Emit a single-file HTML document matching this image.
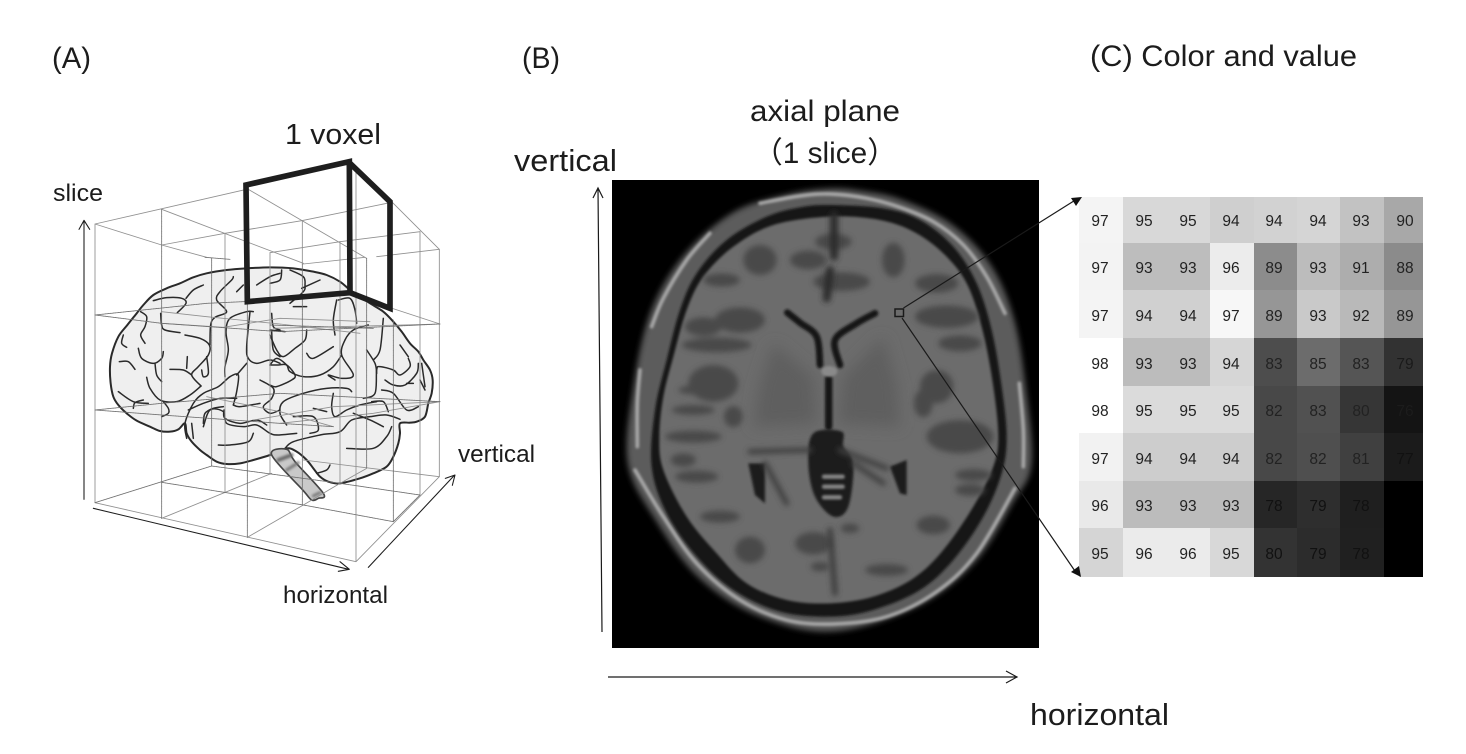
<!DOCTYPE html>
<html><head><meta charset="utf-8"><style>
html,body{margin:0;padding:0;background:#fff}
svg{display:block}
text{font-family:"Liberation Sans","Noto Sans CJK JP",sans-serif;fill:#1c1c1c}
.c text{text-anchor:middle;font-size:15.5px;fill:#222}
</style></head><body>
<svg width="1466" height="754" viewBox="0 0 1466 754" xmlns="http://www.w3.org/2000/svg">
<defs>
<filter id="b1" filterUnits="userSpaceOnUse" x="0" y="0" width="1500" height="1600"><feGaussianBlur stdDeviation="1"/></filter>
<filter id="b2" filterUnits="userSpaceOnUse" x="0" y="0" width="1500" height="1600"><feGaussianBlur stdDeviation="4"/></filter>
<filter id="b3" filterUnits="userSpaceOnUse" x="0" y="0" width="1500" height="1600"><feGaussianBlur stdDeviation="9"/></filter>
<filter id="b6" filterUnits="userSpaceOnUse" x="0" y="0" width="1500" height="1600"><feGaussianBlur stdDeviation="11"/></filter>
<filter id="b10" filterUnits="userSpaceOnUse" x="0" y="0" width="1500" height="1600"><feGaussianBlur stdDeviation="22"/></filter>
</defs>
<rect width="1466" height="754" fill="#fff"/>

<text x="52" y="68" font-size="30" textLength="39" lengthAdjust="spacingAndGlyphs">(A)</text>
<text x="522" y="68" font-size="30" textLength="38" lengthAdjust="spacingAndGlyphs">(B)</text>
<text x="1090" y="66" font-size="30" textLength="267" lengthAdjust="spacingAndGlyphs">(C) Color and value</text>
<text x="285" y="144" font-size="29" textLength="96" lengthAdjust="spacingAndGlyphs">1 voxel</text>
<text x="750" y="121" font-size="30" textLength="150" lengthAdjust="spacingAndGlyphs">axial plane</text>
<text x="753" y="163" font-size="30" textLength="144" lengthAdjust="spacingAndGlyphs">（1 slice）</text>
<text x="514" y="171" font-size="31" textLength="103" lengthAdjust="spacingAndGlyphs">vertical</text>
<text x="53" y="201" font-size="24" textLength="50" lengthAdjust="spacingAndGlyphs">slice</text>
<text x="458" y="462" font-size="24" textLength="77" lengthAdjust="spacingAndGlyphs">vertical</text>
<text x="283" y="603" font-size="24" textLength="105" lengthAdjust="spacingAndGlyphs">horizontal</text>
<text x="1030" y="725" font-size="31" textLength="139" lengthAdjust="spacingAndGlyphs">horizontal</text>

<!-- Panel A -->
<g transform="translate(40,140) scale(.33333)" fill="none" stroke-linejoin="round" stroke-linecap="round">
  <path class="s" d="M210,680 L216,640 L235,590 L262,555 L290,520 L310,495 L340,465 L380,445 L420,430 L460,412 L500,400 L560,390 L620,385 L690,382 L760,385 L820,395 L860,405 L900,425 L930,450 L960,470 L990,490 L1030,515 L1060,545 L1085,575 L1110,610 L1135,635 L1150,660 L1170,690 L1178,720 L1175,760 L1165,790 L1155,830 L1130,845 L1110,848 L1080,850 L1080,880 L1075,910 L1060,950 L1040,980 L1000,1000 L960,1015 L900,1030 L865,1025 L840,1010 L820,985 L800,960 L770,935 L740,925 L690,945 L640,960 L600,970 L560,972 L530,965 L500,945 L480,930 L455,905 L440,880 L435,850 L415,868 L390,875 L360,873 L330,860 L290,842 L260,820 L235,795 L220,770 L212,730 Z" fill="#efefef" stroke="#2a2a2a" stroke-width="6"/>

  <g class="t" transform="translate(180,360)" stroke="#2a2a2a" stroke-width="4.5">
    <path d="M160,122 L200,113 L245,115 L258,130 L232,158 M258,115 L280,90 L310,75"/>
    <path d="M182,160 L185,195 L195,210 L240,218 M255,225 L300,235 L328,255 L325,285 L295,320 L275,345 L303,378"/>
    <path d="M122,155 L140,170 L135,200 L122,225 L135,250 M70,225 L65,250 L80,262"/>
    <path d="M115,265 L125,295 L160,310 L185,295 L190,275 M58,305 L85,305 L105,328 M165,310 L170,345 L185,365"/>
    <path d="M140,352 L150,385 L180,420 L230,425 L270,405 L303,378 M210,328 L250,330 L275,345 M262,290 L260,325"/>
    <path d="M320,290 L325,340 L310,350 L305,330 M55,395 L100,425 L145,430 M100,445 L105,428 L130,420"/>
    <path d="M260,535 L255,490 L280,430 L310,400 L355,380 L390,350 L415,345 L410,395 L400,435"/>
    <path d="M375,350 L375,320 L385,270 L378,215 L390,175 L440,155 L460,155"/>
    <path d="M330,255 L332,195 L345,172 L380,155 L350,120 L360,95 L395,60 L400,50 M410,95 L430,75"/>
    <path d="M190,425 L205,445 L205,460 L185,470"/>
    <path d="M372,450 L375,475 L420,490 L470,480 L500,495 M370,440 L340,445 L315,460 L310,490 M280,535 L275,490"/>
    <path d="M450,155 L440,260 L445,295 L470,310 L510,300 L540,310 M515,215 L520,270 L540,290 M515,160 L520,200 L540,210"/>
    <path d="M440,310 L410,345 M480,360 L520,385 L515,415 L490,440 L510,460 L540,450 M400,435 L420,440 L480,430"/>
    <path d="M470,75 L510,50 L540,40"/>
  </g>
  <g class="t" transform="translate(690,360)" stroke="#2a2a2a" stroke-width="4.5">
    <path d="M0,70 L30,60 L35,30 M60,30 L100,50 L105,75 L100,95 L60,130 M95,85 L150,60 M70,140 L110,140"/>
    <path d="M200,120 L190,180 L195,225 M205,120 L240,115 L255,150 L260,190"/>
    <path d="M295,195 L250,210 L225,240 L215,285 L250,345 L215,355 L175,345 L195,360 M215,285 L190,320 L150,345 L100,350 L60,335 L50,315 L20,295 L0,315"/>
    <path d="M110,280 L130,295 L190,260 M0,225 L20,270 L40,290 L75,265 L105,240 L110,210 M0,210 L45,215"/>
    <path d="M0,315 L25,315 L50,315 L75,345 L65,360 L20,380 L0,375"/>
    <path d="M50,495 L30,460 L40,425 L100,400 L170,385 L230,385 L245,395"/>
    <path d="M190,400 L185,440 L195,470 L230,450 L270,435 L320,425 M280,415 L315,400 L320,330 L330,320 L370,330 L390,345 L420,320 L415,295"/>
    <path d="M290,270 L315,310 L320,340 M340,175 L330,270 L310,300 M390,255 L415,290 M345,360 L370,375 L405,375 L440,340 L445,310 M410,370 L430,370"/>
    <path d="M335,390 L370,400 L410,450 L445,440 M455,310 L465,380 M450,360 L465,390"/>
    <path d="M70,470 L130,470 L145,510 L120,520 M130,445 L170,455 M305,425 L340,425 L355,455 M250,460 L300,480 L340,500"/>
  </g>
  <g class="t" stroke="#2a2a2a" stroke-width="4.5">
    <path d="M445,810 L490,790 L540,775 L590,775 M490,860 L510,810 L550,815 L560,850 L610,860 L650,855 L690,880 L715,885 L770,880"/>
    <path d="M735,925 L760,905 L840,885 L900,875 L935,840 L990,830 L1040,825 L1080,838"/>
    <path d="M535,915 L570,915 L625,905 L640,880 M920,925 L1000,925 L1040,890 L1055,860"/>
    <path d="M830,1000 L860,990 L870,975"/>
  </g>
  <path class="s" d="M695,945 L740,928 L765,965 L850,1060 L835,1075 L815,1080 L790,1052 Z" fill="#c9c9c9" stroke="#444" stroke-width="5" filter="url(#b1)"/>
  <path d="M715,960 L755,945" stroke="#666" stroke-width="11" filter="url(#b2)"/>
  <path d="M740,990 L775,968" stroke="#777" stroke-width="9" filter="url(#b2)"/>
  <path d="M820,1068 L840,1058" stroke="#777" stroke-width="9" filter="url(#b2)"/>

  <g stroke="#909090" stroke-width="2.6">
    <path d="M165,252 L620,148 M165,252 L165,1088 M165,252 L365,315 L500,352 M1198,328 L1198,1010 M1198,328 L1055,185 M948,80 L948,1265 M165,1088 L948,1265 L1198,1010"/>
    <path d="M365,208 L790,370 M620,145 L980,355 M365,315 L555,280 L785,242 L1050,188 M690,338 L900,305 L1140,275 M790,372 L975,352 M1010,350 L1198,328"/>
    <path d="M555,280 L555,1058 M787,242 L787,372 M690,338 L690,1000 M900,305 L900,1030 M1140,275 L1140,1065"/>
    <path d="M365,1135 L695,1000 M622,1192 L790,1095 L900,1030 L980,985"/>
    <path d="M790,960 L1198,1010"/>
    <path d="M365,515 L500,530 L720,552 L960,580 M365,550 L550,562 L720,535 L990,545 M700,565 L1200,552 M980,480 L1200,552"/>
    <path d="M500,770 L720,815 L880,860 M640,840 L880,800 L1200,785 M720,850 L1000,820 L1200,785"/>
  </g>
  <g stroke="#6e6e6e" stroke-width="2.6" stroke-dasharray="3 2">
    <path d="M365,208 L365,1135 M622,480 L622,1192 M515,355 L515,978 M980,355 L980,985 M1060,540 L1060,1145 M787,372 L787,1095"/>
    <path d="M165,525 L500,490 L720,480 M165,525 L365,550 L720,575 L1200,552"/>
    <path d="M165,810 L365,790 L720,760 L1200,785 M165,810 L365,825 L720,850 L880,860"/>
    <path d="M165,1088 L515,978 L900,1030 L1140,1065 L1060,1145 M365,1027 L790,1095 L1060,1145"/>
    <path d="M495,352 L570,358 M690,555 L1000,565"/>
  </g>
  <path d="M618,135 L928,65 L930,458 L622,485 Z M928,68 L1050,185 L1050,505 L930,458" stroke="#1e1e1e" stroke-width="17" stroke-linejoin="miter" stroke-linecap="butt"/>
  <g stroke="#1c1c1c" stroke-width="3.2">
    <path d="M132,1078 L132,242 M117,268 L132,241 L149,268"/>
    <path d="M160,1105 L926,1288 M900,1265 L928,1288 L895,1294"/>
    <path d="M985,1282 L1243,1006 M1216,1015 L1245,1005 L1237,1036"/>
  </g>
</g>

<!-- Panel B MRI -->
<rect x="612" y="180" width="427" height="468" fill="#000"/>
<svg x="612" y="180" width="427" height="468" viewBox="612 180 427 468" overflow="hidden">
<g transform="translate(600,170) scale(.33333)" stroke-linejoin="round" stroke-linecap="round">
  <path class="s" d="M690,60 L790,68 L900,92 L1050,165 L1170,290 L1238,450 L1272,650 L1290,880 L1235,995 L1120,1175 L950,1305 L700,1380 L480,1335 L300,1220 L172,1050 L88,880 L105,650 L155,430 L252,262 L400,132 L560,78 Z" fill="#5c5c5c" stroke="#555" stroke-width="10" filter="url(#b3)"/>
  <g fill="none" stroke="#a8a8a8" stroke-width="11" filter="url(#b2)">
    <path class="s" d="M480,100 L600,78 L690,72 L800,85 L900,112 L1000,155 L1090,225 L1160,320 L1215,430"/>
    <path class="s" d="M330,190 L260,270 L190,385 L155,470"/>
    <path class="s" d="M120,600 L112,700 L112,830"/>
    <path class="s" d="M105,900 L190,1040 L290,1180 L420,1290 L560,1350 L700,1362 L860,1340 L1010,1265 L1130,1150 L1245,955"/>
    <path class="s" d="M1258,640 L1270,780 L1270,890"/>
  </g>
  <path class="s" d="M690,105 L850,115 L960,150 L1060,230 L1130,340 L1175,480 L1205,650 L1220,800 L1205,910 L1150,1040 L1060,1170 L960,1260 L820,1320 L690,1340 L540,1325 L400,1260 L290,1160 L200,1030 L155,890 L165,720 L200,570 L240,420 L290,310 L380,210 L500,140 L600,112 Z" fill="#181818" filter="url(#b2)"/>
  <path class="s" d="M690,140 L840,150 L950,190 L1040,260 L1105,350 L1150,490 L1180,650 L1195,800 L1180,890 L1120,1010 L1030,1140 L940,1225 L820,1280 L690,1300 L560,1290 L440,1240 L350,1150 L260,1040 L190,900 L178,800 L190,680 L220,560 L260,420 L310,320 L400,230 L520,165 Z" fill="#6c6c6c" filter="url(#b2)"/>
  <g fill="#4a4a4a" filter="url(#b3)">
    <ellipse cx="480" cy="270" rx="50" ry="45"/><ellipse cx="625" cy="270" rx="55" ry="28"/><ellipse cx="700" cy="215" rx="55" ry="24"/><ellipse cx="880" cy="270" rx="34" ry="52"/>
    <ellipse cx="725" cy="335" rx="85" ry="28"/><ellipse cx="1010" cy="340" rx="65" ry="28"/><ellipse cx="365" cy="330" rx="55" ry="20"/>
    <ellipse cx="420" cy="450" rx="75" ry="38"/><ellipse cx="310" cy="470" rx="55" ry="28"/><ellipse cx="350" cy="525" rx="105" ry="22"/><ellipse cx="340" cy="640" rx="75" ry="55"/>
    <ellipse cx="1040" cy="440" rx="95" ry="34"/><ellipse cx="1080" cy="520" rx="65" ry="24"/><ellipse cx="1010" cy="650" rx="50" ry="50"/><ellipse cx="970" cy="700" rx="28" ry="42"/>
    <ellipse cx="1080" cy="800" rx="100" ry="50"/><ellipse cx="400" cy="740" rx="28" ry="32"/><ellipse cx="280" cy="800" rx="85" ry="18"/><ellipse cx="250" cy="870" rx="38" ry="20"/><ellipse cx="290" cy="920" rx="65" ry="18"/>
    <ellipse cx="1120" cy="915" rx="55" ry="18"/><ellipse cx="1110" cy="960" rx="45" ry="18"/><ellipse cx="360" cy="1040" rx="60" ry="18"/><ellipse cx="1000" cy="1065" rx="50" ry="28"/><ellipse cx="450" cy="1140" rx="45" ry="40"/>
    <ellipse cx="640" cy="1120" rx="55" ry="34"/><ellipse cx="750" cy="1075" rx="28" ry="14"/><ellipse cx="860" cy="1200" rx="65" ry="18"/><ellipse cx="660" cy="1190" rx="28" ry="14"/><ellipse cx="280" cy="720" rx="65" ry="15"/><ellipse cx="280" cy="660" rx="45" ry="13"/>
  </g>
  <g fill="#5f5f5f" filter="url(#b10)">
    <path d="M520,520 L640,620 L650,760 L460,770 L480,640 Z"/>
    <path d="M850,500 L730,620 L715,760 L900,770 L890,640 Z"/>
  </g>
  <path d="M702,135 L702,260 M690,300 L680,385" stroke="#2a2a2a" stroke-width="24" fill="none" filter="url(#b3)"/>
  <g fill="none" stroke="#141414" filter="url(#b2)">
    <path class="s" d="M562,428 L600,458 L650,500 L660,585" stroke-width="20"/>
    <path class="s" d="M825,430 L770,460 L705,510 L720,585" stroke-width="20"/>
    <path d="M686,625 L686,770" stroke-width="22"/>
  </g>
  <ellipse cx="688" cy="604" rx="24" ry="16" fill="#8a8a8a" filter="url(#b2)"/>
  <g fill="#1d1d1d" filter="url(#b2)">
    <path class="s" d="M640,790 L725,785 L730,830 L760,880 L745,1010 L700,1040 L645,980 L625,880 Z"/>
    <path d="M445,880 L495,880 L495,1000 L465,975 Z"/>
    <path d="M870,890 L920,870 L920,975 L900,970 Z"/>
  </g>
  <path d="M450,845 L630,840 M720,840 L860,895 M495,880 L560,1000 M760,880 L850,940" stroke="#3f3f3f" stroke-width="16" fill="none" filter="url(#b3)"/>
  <path d="M672,920 L728,920 M672,950 L728,950 M672,982 L720,982" stroke="#858585" stroke-width="13" fill="none" filter="url(#b2)"/>
  <path d="M690,1080 L705,1270" stroke="#3a3a3a" stroke-width="16" fill="none" filter="url(#b3)"/>
</g>
</svg>

<!-- Panel C table -->
<g shape-rendering="crispEdges">
<rect x="1079" y="197" width="344" height="380" fill="#000"/>
<rect x="1079" y="197" width="44" height="46" fill="#f4f4f4"/><rect x="1123" y="197" width="44" height="46" fill="#d8d8d8"/><rect x="1167" y="197" width="43" height="46" fill="#d8d8d8"/><rect x="1210" y="197" width="44" height="46" fill="#cfcfcf"/><rect x="1254" y="197" width="43" height="46" fill="#d2d2d2"/><rect x="1297" y="197" width="43" height="46" fill="#d5d5d5"/><rect x="1340" y="197" width="44" height="46" fill="#c2c2c2"/><rect x="1384" y="197" width="39" height="46" fill="#a8a8a8"/>
<rect x="1079" y="243" width="44" height="47" fill="#f3f3f3"/><rect x="1123" y="243" width="44" height="47" fill="#bdbdbd"/><rect x="1167" y="243" width="43" height="47" fill="#bdbdbd"/><rect x="1210" y="243" width="44" height="47" fill="#ececec"/><rect x="1254" y="243" width="43" height="47" fill="#8c8c8c"/><rect x="1297" y="243" width="43" height="47" fill="#bcbcbc"/><rect x="1340" y="243" width="44" height="47" fill="#adadad"/><rect x="1384" y="243" width="39" height="47" fill="#8b8b8b"/>
<rect x="1079" y="290" width="44" height="48" fill="#f4f4f4"/><rect x="1123" y="290" width="44" height="48" fill="#d0d0d0"/><rect x="1167" y="290" width="43" height="48" fill="#d0d0d0"/><rect x="1210" y="290" width="44" height="48" fill="#f7f7f7"/><rect x="1254" y="290" width="43" height="48" fill="#969696"/><rect x="1297" y="290" width="43" height="48" fill="#c9c9c9"/><rect x="1340" y="290" width="44" height="48" fill="#b9b9b9"/><rect x="1384" y="290" width="39" height="48" fill="#969696"/>
<rect x="1079" y="338" width="44" height="48" fill="#fff"/><rect x="1123" y="338" width="44" height="48" fill="#bcbcbc"/><rect x="1167" y="338" width="43" height="48" fill="#bcbcbc"/><rect x="1210" y="338" width="44" height="48" fill="#d6d6d6"/><rect x="1254" y="338" width="43" height="48" fill="#4d4d4d"/><rect x="1297" y="338" width="43" height="48" fill="#6c6c6c"/><rect x="1340" y="338" width="44" height="48" fill="#555"/><rect x="1384" y="338" width="39" height="48" fill="#323232"/>
<rect x="1079" y="386" width="44" height="47" fill="#fff"/><rect x="1123" y="386" width="44" height="47" fill="#dbdbdb"/><rect x="1167" y="386" width="43" height="47" fill="#dbdbdb"/><rect x="1210" y="386" width="44" height="47" fill="#dbdbdb"/><rect x="1254" y="386" width="43" height="47" fill="#484848"/><rect x="1297" y="386" width="43" height="47" fill="#515151"/><rect x="1340" y="386" width="44" height="47" fill="#363636"/><rect x="1384" y="386" width="39" height="47" fill="#141414"/>
<rect x="1079" y="433" width="44" height="48" fill="#f2f2f2"/><rect x="1123" y="433" width="44" height="48" fill="#cdcdcd"/><rect x="1167" y="433" width="43" height="48" fill="#cdcdcd"/><rect x="1210" y="433" width="44" height="48" fill="#cdcdcd"/><rect x="1254" y="433" width="43" height="48" fill="#484848"/><rect x="1297" y="433" width="43" height="48" fill="#4f4f4f"/><rect x="1340" y="433" width="44" height="48" fill="#404040"/><rect x="1384" y="433" width="39" height="48" fill="#1b1b1b"/>
<rect x="1079" y="481" width="44" height="47" fill="#e9e9e9"/><rect x="1123" y="481" width="44" height="47" fill="#bcbcbc"/><rect x="1167" y="481" width="43" height="47" fill="#bcbcbc"/><rect x="1210" y="481" width="44" height="47" fill="#bcbcbc"/><rect x="1254" y="481" width="43" height="47" fill="#262626"/><rect x="1297" y="481" width="43" height="47" fill="#2e2e2e"/><rect x="1340" y="481" width="44" height="47" fill="#1f1f1f"/><rect x="1384" y="481" width="39" height="47" fill="#000"/>
<rect x="1079" y="528" width="44" height="49" fill="#d5d5d5"/><rect x="1123" y="528" width="44" height="49" fill="#ebebeb"/><rect x="1167" y="528" width="43" height="49" fill="#ebebeb"/><rect x="1210" y="528" width="44" height="49" fill="#d8d8d8"/><rect x="1254" y="528" width="43" height="49" fill="#333"/><rect x="1297" y="528" width="43" height="49" fill="#2c2c2c"/><rect x="1340" y="528" width="44" height="49" fill="#202020"/><rect x="1384" y="528" width="39" height="49" fill="#000"/>
</g>
<g class="c">
<text x="1100" y="226">97</text><text x="1144" y="226">95</text><text x="1188" y="226">95</text><text x="1231" y="226">94</text><text x="1274" y="226">94</text><text x="1318" y="226">94</text><text x="1361" y="226">93</text><text x="1405" y="226">90</text>
<text x="1100" y="273">97</text><text x="1144" y="273">93</text><text x="1188" y="273">93</text><text x="1231" y="273">96</text><text x="1274" y="273">89</text><text x="1318" y="273">93</text><text x="1361" y="273">91</text><text x="1405" y="273">88</text>
<text x="1100" y="321">97</text><text x="1144" y="321">94</text><text x="1188" y="321">94</text><text x="1231" y="321">97</text><text x="1274" y="321">89</text><text x="1318" y="321">93</text><text x="1361" y="321">92</text><text x="1405" y="321">89</text>
<text x="1100" y="369">98</text><text x="1144" y="369">93</text><text x="1188" y="369">93</text><text x="1231" y="369">94</text><text x="1274" y="369">83</text><text x="1318" y="369">85</text><text x="1361" y="369">83</text><text x="1405" y="369" style="fill:#1a1a1a">79</text>
<text x="1100" y="416">98</text><text x="1144" y="416">95</text><text x="1188" y="416">95</text><text x="1231" y="416">95</text><text x="1274" y="416">82</text><text x="1318" y="416">83</text><text x="1361" y="416">80</text><text x="1405" y="416" style="fill:#1c1c1c">76</text>
<text x="1100" y="464">97</text><text x="1144" y="464">94</text><text x="1188" y="464">94</text><text x="1231" y="464">94</text><text x="1274" y="464">82</text><text x="1318" y="464">82</text><text x="1361" y="464">81</text><text x="1405" y="464" style="fill:#111">77</text>
<text x="1100" y="511">96</text><text x="1144" y="511">93</text><text x="1188" y="511">93</text><text x="1231" y="511">93</text><text x="1274" y="511" style="fill:#111">78</text><text x="1318" y="511" style="fill:#111">79</text><text x="1361" y="511" style="fill:#111">78</text>
<text x="1100" y="559">95</text><text x="1144" y="559">96</text><text x="1188" y="559">96</text><text x="1231" y="559">95</text><text x="1274" y="559" style="fill:#111">80</text><text x="1318" y="559" style="fill:#111">79</text><text x="1361" y="559" style="fill:#111">78</text>
</g>

<!-- B/C annotations -->
<g fill="none" stroke="#1a1a1a" stroke-width="1.2">
  <path d="M602,632 L598,189 M593,198 L598,188 L603,198"/>
  <path d="M608,677 L1016,677 M1006,671 L1017,677 L1006,683"/>
  <rect x="895" y="309" width="8.5" height="7.5" stroke-width="1.5"/>
  <path d="M903.5,308 L1077,199"/>
  <path d="M902,318 L1077,574"/>
</g>
<path d="M1082,197 L1071,198 L1076,206 Z M1081,577 L1079,566 L1071,572 Z" fill="#111"/>
</svg>
<script>
(function(){
  function smooth(d){
    return d.split(/(?=M)/).map(function(sub){
      var closed=/Z/i.test(sub);
      var n=sub.match(/-?[\d.]+/g).map(Number),p=[];
      for(var i=0;i<n.length;i+=2)p.push([n[i],n[i+1]]);
      var c=p.length;
      if(c<3)return sub;
      var o="M"+p[0][0]+","+p[0][1];
      var last=closed?c:c-1;
      for(var j=0;j<last;j++){
        var a=closed?p[(j-1+c)%c]:p[Math.max(j-1,0)],
            b=p[j],
            e=closed?p[(j+1)%c]:p[j+1],
            f=closed?p[(j+2)%c]:p[Math.min(j+2,c-1)];
        o+=" C"+(b[0]+(e[0]-a[0])/6).toFixed(1)+","+(b[1]+(e[1]-a[1])/6).toFixed(1)+" "+
            (e[0]-(f[0]-b[0])/6).toFixed(1)+","+(e[1]-(f[1]-b[1])/6).toFixed(1)+" "+e[0]+","+e[1];
      }
      return o+(closed?" Z":"");
    }).join(" ");
  }
  document.querySelectorAll("path.s, g.t path").forEach(function(el){
    el.setAttribute("d",smooth(el.getAttribute("d")));
  });
})();
</script>
</body></html>
